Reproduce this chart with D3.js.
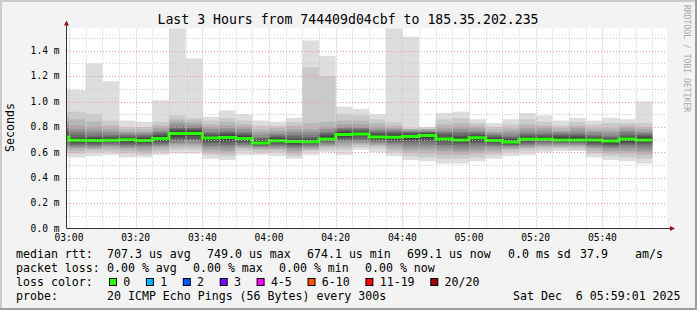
<!DOCTYPE html>
<html>
<head>
<meta charset="utf-8">
<script src="https://cdn.jsdelivr.net/npm/d3@7"></script>
<style>
html, body { margin: 0; padding: 0; background: #fff; }
svg { display: block; font-family: "DejaVu Sans Mono", monospace; }
text { white-space: pre; }
</style>
</head>
<body>
<div id="chart"></div>
<script>
// 5-minute slots (start times), first one is cut by the left edge
const slotStarts = ["02:55","03:00","03:05","03:10","03:15","03:20","03:25","03:30","03:35",
    "03:40","03:45","03:50","03:55","04:00","04:05","04:10","04:15","04:20","04:25","04:30",
    "04:35","04:40","04:45","04:50","04:55","05:00","05:05","05:10","05:15","05:20","05:25",
    "05:30","05:35","05:40","05:45","05:50"];

// median rtt per slot (ms)
const medians = [0.721,0.695,0.693,0.695,0.698,0.693,0.709,0.748,0.748,0.713,0.717,0.709,
    0.674,0.690,0.685,0.684,0.705,0.740,0.744,0.720,0.719,0.725,0.733,0.705,0.697,0.714,
    0.692,0.681,0.702,0.703,0.697,0.697,0.697,0.689,0.704,0.697];

// 20 sorted pings per slot (ms)
const pings = [
    [0.57,0.60,0.62,0.64,0.65,0.66,0.68,0.69,0.70,0.71,0.73,0.74,0.75,0.77,0.79,0.81,0.84,0.88,0.92,1.09],
    [0.56,0.59,0.61,0.63,0.64,0.65,0.66,0.67,0.68,0.69,0.70,0.71,0.72,0.74,0.76,0.78,0.81,0.86,0.92,1.09],
    [0.57,0.60,0.62,0.63,0.64,0.65,0.66,0.67,0.68,0.69,0.70,0.71,0.72,0.73,0.75,0.77,0.80,0.84,0.90,1.30],
    [0.58,0.60,0.62,0.64,0.65,0.66,0.67,0.68,0.69,0.69,0.70,0.71,0.72,0.73,0.74,0.76,0.78,0.81,0.85,1.16],
    [0.56,0.59,0.61,0.63,0.64,0.65,0.66,0.67,0.68,0.69,0.70,0.71,0.72,0.73,0.74,0.75,0.76,0.78,0.80,0.85],
    [0.56,0.58,0.60,0.62,0.64,0.65,0.66,0.67,0.68,0.69,0.70,0.71,0.72,0.73,0.74,0.75,0.76,0.78,0.80,0.84],
    [0.58,0.60,0.62,0.64,0.65,0.66,0.67,0.68,0.69,0.70,0.72,0.73,0.74,0.75,0.76,0.77,0.79,0.81,0.84,1.01],
    [0.59,0.62,0.64,0.66,0.67,0.68,0.70,0.71,0.72,0.74,0.76,0.77,0.78,0.79,0.80,0.82,0.84,0.86,0.89,1.62],
    [0.59,0.62,0.64,0.66,0.67,0.69,0.70,0.71,0.73,0.74,0.76,0.77,0.78,0.79,0.80,0.81,0.83,0.85,0.87,1.34],
    [0.55,0.58,0.60,0.62,0.64,0.65,0.67,0.68,0.69,0.70,0.72,0.73,0.74,0.75,0.76,0.78,0.80,0.82,0.85,0.88],
    [0.54,0.57,0.59,0.61,0.63,0.65,0.66,0.68,0.69,0.71,0.72,0.74,0.75,0.76,0.77,0.79,0.81,0.84,0.87,0.93],
    [0.58,0.61,0.63,0.64,0.65,0.66,0.67,0.68,0.69,0.70,0.72,0.73,0.74,0.75,0.76,0.78,0.80,0.82,0.85,0.90],
    [0.58,0.60,0.62,0.63,0.64,0.65,0.65,0.66,0.67,0.67,0.68,0.69,0.70,0.71,0.72,0.74,0.76,0.78,0.81,0.85],
    [0.57,0.60,0.62,0.63,0.64,0.65,0.66,0.67,0.68,0.69,0.70,0.71,0.72,0.73,0.74,0.75,0.77,0.79,0.81,0.84],
    [0.55,0.57,0.59,0.61,0.63,0.64,0.65,0.66,0.67,0.68,0.69,0.70,0.71,0.73,0.74,0.76,0.78,0.81,0.84,0.87],
    [0.58,0.61,0.62,0.63,0.64,0.65,0.66,0.67,0.68,0.68,0.69,0.70,0.71,0.72,0.74,0.76,0.78,0.83,1.27,1.48],
    [0.60,0.62,0.64,0.65,0.66,0.67,0.68,0.69,0.70,0.70,0.72,0.73,0.74,0.75,0.76,0.78,0.80,0.84,1.20,1.36],
    [0.58,0.62,0.64,0.66,0.68,0.69,0.70,0.71,0.72,0.73,0.75,0.76,0.77,0.78,0.79,0.80,0.82,0.85,0.90,0.96],
    [0.62,0.64,0.66,0.67,0.68,0.69,0.70,0.72,0.73,0.74,0.75,0.76,0.77,0.78,0.79,0.80,0.82,0.85,0.89,0.94],
    [0.60,0.63,0.65,0.66,0.67,0.68,0.69,0.70,0.71,0.71,0.73,0.74,0.75,0.76,0.77,0.78,0.80,0.83,0.86,0.90],
    [0.57,0.60,0.62,0.64,0.66,0.67,0.68,0.69,0.70,0.71,0.73,0.74,0.75,0.76,0.77,0.78,0.79,0.81,0.84,1.62],
    [0.54,0.57,0.60,0.62,0.64,0.66,0.68,0.69,0.70,0.72,0.73,0.74,0.75,0.76,0.76,0.77,0.78,0.78,0.79,1.51],
    [0.53,0.56,0.59,0.62,0.64,0.66,0.68,0.69,0.71,0.72,0.74,0.75,0.75,0.76,0.76,0.77,0.78,0.78,0.79,0.80],
    [0.51,0.55,0.58,0.61,0.63,0.65,0.66,0.68,0.69,0.70,0.71,0.72,0.74,0.75,0.76,0.77,0.79,0.82,0.86,0.91],
    [0.51,0.55,0.58,0.60,0.62,0.64,0.66,0.67,0.68,0.69,0.71,0.72,0.73,0.75,0.76,0.78,0.80,0.83,0.87,0.92],
    [0.53,0.56,0.59,0.61,0.63,0.65,0.67,0.68,0.69,0.70,0.72,0.73,0.74,0.75,0.76,0.77,0.79,0.81,0.83,0.86],
    [0.55,0.58,0.60,0.62,0.64,0.65,0.66,0.67,0.68,0.69,0.70,0.71,0.72,0.73,0.74,0.75,0.76,0.78,0.80,0.83],
    [0.57,0.60,0.62,0.63,0.64,0.65,0.66,0.66,0.67,0.68,0.69,0.70,0.71,0.72,0.73,0.75,0.77,0.79,0.82,0.86],
    [0.58,0.61,0.63,0.64,0.65,0.66,0.67,0.68,0.69,0.70,0.71,0.72,0.73,0.74,0.75,0.77,0.79,0.82,0.86,0.91],
    [0.60,0.62,0.64,0.65,0.66,0.67,0.68,0.69,0.70,0.70,0.71,0.72,0.73,0.74,0.75,0.77,0.79,0.81,0.84,0.89],
    [0.61,0.63,0.64,0.65,0.66,0.67,0.68,0.68,0.69,0.70,0.71,0.72,0.73,0.74,0.75,0.76,0.77,0.79,0.81,0.85],
    [0.61,0.62,0.64,0.65,0.66,0.67,0.68,0.68,0.69,0.70,0.71,0.72,0.73,0.74,0.75,0.77,0.79,0.81,0.84,0.87],
    [0.56,0.59,0.61,0.63,0.64,0.65,0.66,0.67,0.68,0.69,0.70,0.71,0.72,0.73,0.74,0.76,0.77,0.79,0.82,0.85],
    [0.54,0.57,0.59,0.61,0.63,0.64,0.65,0.66,0.67,0.68,0.69,0.70,0.71,0.72,0.73,0.75,0.77,0.79,0.83,0.87],
    [0.53,0.56,0.59,0.61,0.63,0.65,0.66,0.67,0.68,0.70,0.71,0.72,0.73,0.74,0.76,0.77,0.79,0.81,0.83,0.86],
    [0.51,0.55,0.58,0.60,0.62,0.64,0.66,0.67,0.68,0.69,0.71,0.72,0.73,0.74,0.75,0.76,0.78,0.80,0.83,1.00]
];

const yTicks = [0.0, 0.2, 0.4, 0.6, 0.8, 1.0, 1.2, 1.4];
const yMinorTicks = [0.1, 0.3, 0.5, 0.7, 0.9, 1.1, 1.3, 1.5];
const xTickLabels = ["03:00","03:20","03:40","04:00","04:20","04:40","05:00","05:20","05:40"];

const titleText = "Last 3 Hours from 744409d04cbf to 185.35.202.235";
const lossLabels = ["0","1","2","3","4-5","6-10","11-19","20/20"];
const lossColors = ["#26ff00","#00b8ff","#0059ff","#7e00ff","#ff00ff","#ff5500","#ff0000","#a00000"];
const rttLine = [["median rtt:", 16], ["707.3 us avg", 107], ["749.0 us max", 207],
    ["674.1 us min", 307], ["699.1 us now", 407], ["0.0 ms sd", 508], ["37.9", 580], ["am/s", 635]];
const lossLine = [["packet loss:", 16], ["0.00 % avg", 107], ["0.00 % max", 193],
    ["0.00 % min", 279], ["0.00 % now", 365]];
const probeLine = [["probe:", 16], ["20 ICMP Echo Pings (56 Bytes) every 300s", 107],
    ["Sat Dec  6 05:59:01 2025", 513]];

const W = 697, H = 310;
const plot = { left: 67, right: 667, top: 28.5, bottom: 228.5 };
const charW = 7.0;

const toDate = (s, sec = 0) => {
    const [h, m] = s.split(":").map(Number);
    return new Date(2025, 11, 6, h, m, sec);
};

const x = d3.scaleTime()
    .domain([new Date(2025, 11, 6, 2, 59, 24), new Date(2025, 11, 6, 5, 59, 24)])
    .range([plot.left, plot.right]);

const y = d3.scaleLinear()
    .domain([0, 200 / 127])
    .range([plot.bottom, plot.top]);

const svg = d3.select("#chart").append("svg")
    .attr("width", W)
    .attr("height", H);

// frame
svg.append("rect").attr("width", W).attr("height", H).attr("fill", "#f3f3f3");
svg.append("path").attr("d", `M0,0H${W}V2H2V${H}H0Z`).attr("fill", "#cbcbcb");
svg.append("path").attr("d", `M${W},${H}H0V${H - 2}H${W - 2}V0H${W}Z`).attr("fill", "#9c9c9c");

svg.append("rect")
    .attr("x", plot.left).attr("y", plot.top)
    .attr("width", plot.right - plot.left).attr("height", plot.bottom - plot.top)
    .attr("fill", "#fff");

svg.append("defs").append("clipPath").attr("id", "clip")
    .append("rect")
    .attr("x", plot.left).attr("y", plot.top)
    .attr("width", plot.right - plot.left).attr("height", plot.bottom - plot.top);

const g = svg.append("g").attr("clip-path", "url(#clip)");

const slots = slotStarts.map((s, i) => {
    const t0 = toDate(s);
    return {
        x0: Math.max(plot.left, x(t0)),
        x1: x(d3.timeMinute.offset(t0, 5)),
        median: medians[i],
        pings: pings[i]
    };
});

// smoke: band k spans ping k .. ping 21-k, lighter outside
const half = 10;
slots.forEach(s => {
    for (let k = 1; k <= half; k++) {
        const lo = s.pings[k - 1], hi = s.pings[20 - k];
        const c = Math.floor(190 / half * (half - k)) + 50;
        g.append("rect")
            .attr("x", s.x0)
            .attr("width", s.x1 - s.x0)
            .attr("y", y(hi))
            .attr("height", y(lo) - y(hi))
            .attr("fill", d3.rgb(c, c, c));
    }
});

// grid (on top of the smoke)
const grid = svg.append("g").attr("clip-path", "url(#clip)");
const minorTimes = d3.timeMinute.every(5).range(x.domain()[0], x.domain()[1]);
minorTimes.forEach(t => {
    const major = t.getMinutes() % 20 === 0;
    const px = Math.round(x(t)) + 0.5;
    grid.append("line")
        .attr("x1", px).attr("x2", px)
        .attr("y1", plot.top).attr("y2", plot.bottom)
        .attr("stroke", major ? "#ec9a9a" : "#c9c9c9")
        .attr("stroke-dasharray", "1,2");
});
yMinorTicks.concat(yTicks.slice(1)).forEach(v => {
    const major = yTicks.includes(v);
    const py = Math.round(y(v)) + 0.5;
    grid.append("line")
        .attr("x1", plot.left).attr("x2", plot.right)
        .attr("y1", py).attr("y2", py)
        .attr("stroke", major ? "#ec9a9a" : "#c9c9c9")
        .attr("stroke-dasharray", "1,2");
});

// median line
const medPts = [];
slots.forEach(s => {
    medPts.push([s.x0, y(s.median)]);
    medPts.push([s.x1, y(s.median)]);
});
g.append("path")
    .attr("d", d3.line()(medPts))
    .attr("fill", "none")
    .attr("stroke", lossColors[0])
    .attr("stroke-width", 3);

// axes
const axisColor = "#333";
svg.append("line")
    .attr("x1", plot.left - 0.5).attr("x2", plot.right + 5)
    .attr("y1", plot.bottom).attr("y2", plot.bottom)
    .attr("stroke", axisColor);
svg.append("line")
    .attr("x1", plot.left - 0.5).attr("x2", plot.left - 0.5)
    .attr("y1", plot.bottom).attr("y2", plot.top - 5)
    .attr("stroke", axisColor);
svg.append("path")
    .attr("d", `M${plot.left - 3},${plot.top - 3}L${plot.left - 0.5},${plot.top - 8}L${plot.left + 2},${plot.top - 3}Z`)
    .attr("fill", "#9a1010");
svg.append("path")
    .attr("d", `M${plot.right + 3},${plot.bottom - 2.5}L${plot.right + 8},${plot.bottom}L${plot.right + 3},${plot.bottom + 2.5}Z`)
    .attr("fill", "#9a1010");

// tick labels
svg.append("g").selectAll("text")
    .data(yTicks)
    .join("text")
    .attr("x", 59.5)
    .attr("y", d => y(d) + 3.3)
    .attr("text-anchor", "end")
    .attr("font-size", "9.6px")
    .attr("fill", "#000")
    .text(d => d.toFixed(1) + " m");

svg.append("g").selectAll("text")
    .data(xTickLabels)
    .join("text")
    .attr("x", d => x(toDate(d)))
    .attr("y", 241)
    .attr("text-anchor", "middle")
    .attr("font-size", "9.6px")
    .attr("fill", "#000")
    .text(d => d);

// title and y label
svg.append("text")
    .attr("x", 348).attr("y", 23.5)
    .attr("text-anchor", "middle")
    .attr("font-size", "13.2px")
    .attr("fill", "#000")
    .text(titleText);

svg.append("text")
    .attr("transform", "translate(13.5,127.5) rotate(-90)")
    .attr("text-anchor", "middle")
    .attr("font-size", "11.6px")
    .attr("fill", "#000")
    .text("Seconds");

svg.append("text")
    .attr("transform", "translate(684,5) rotate(90)")
    .attr("font-size", "8.1px")
    .attr("fill", "#a8a8a8")
    .text("RRDTOOL / TOBI OETIKER");

// legend
const legend = svg.append("g").attr("font-size", "11.6px").attr("fill", "#000");
const addLine = (items, yy) => items.forEach(([t, xx]) =>
    legend.append("text").attr("x", xx).attr("y", yy).text(t));
addLine(rttLine, 258);
addLine(lossLine, 272);
addLine([["loss color:", 16]], 286);
addLine(probeLine, 300);

let bx = 109;
lossLabels.forEach((lab, i) => {
    legend.append("rect")
        .attr("x", bx + 0.5).attr("y", 278.5)
        .attr("width", 7).attr("height", 7)
        .attr("fill", lossColors[i])
        .attr("stroke", "#000");
    legend.append("text").attr("x", bx + 14.3).attr("y", 286).text(lab);
    bx += 14.3 + lab.length * charW + 15.6;
});
</script>
</body>
</html>
